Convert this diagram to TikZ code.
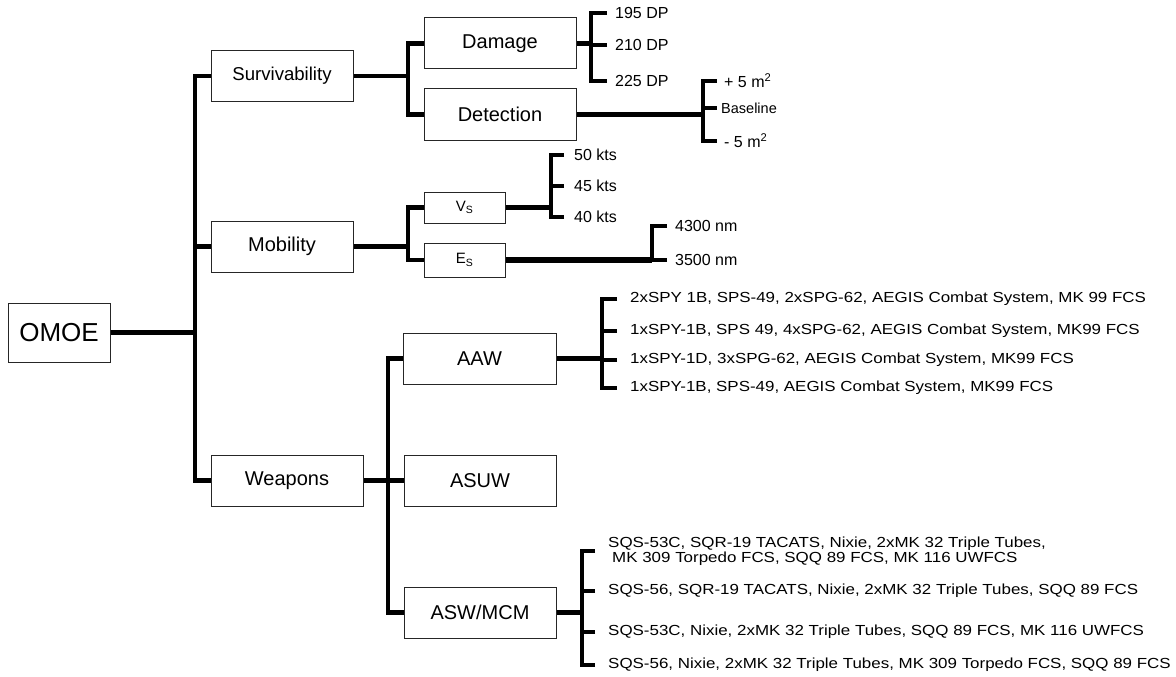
\documentclass[tikz,border=0pt]{standalone}
\usepackage{fontspec}
\setmainfont{Liberation Sans}
\newfontfamily\optfont{Liberation Sans}[FakeStretch=1.16]
\usetikzlibrary{backgrounds}
\tikzset{
  box/.style={draw=black!85, line width=1pt, fill=white, inner sep=0pt,
    font=\fontsize{20}{24}\selectfont, minimum height=51pt},
  conn/.style={line width=4.2pt, line join=miter},
  thickconn/.style={line width=5.5pt, line join=miter},
  leaf/.style={anchor=west, inner ysep=0pt, font=\fontsize{16}{19}\selectfont},
  opt/.style={anchor=west, inner ysep=0pt, inner xsep=13pt,
    font=\optfont\fontsize{14.6}{15.5}\selectfont, align=left},
}
\begin{document}
\begin{tikzpicture}[x=1pt,y=-1pt]
\useasboundingbox (0,0) rectangle (1176,677);

% boxes
\node[box, minimum width=102pt, minimum height=59pt, font=\fontsize{26}{30}\selectfont] (omoe) at (59,332.5) {OMOE};
\node[box, minimum width=142pt, font=\fontsize{18.6}{22}\selectfont] (surv) at (282,76) {Survivability};
\node[box, minimum width=142pt] (mob) at (282,246.5) {Mobility};
\node[box, minimum width=152pt] (weap) at (287,480.5) {Weapons};
\node[box, minimum width=152pt] (dam) at (500,43.5) {Damage};
\node[box, minimum width=152pt] (det) at (500,114.5) {Detection};
\node[box, minimum width=81pt, minimum height=31pt, font=\fontsize{15}{18}\selectfont] (vs) at (464.5,207.5) {V\textsubscript{S}};
\node[box, minimum width=81pt, minimum height=34pt, font=\fontsize{15}{18}\selectfont] (es) at (464.5,260) {E\textsubscript{S}};
\node[box, minimum width=153pt] (aaw) at (479.5,358.5) {AAW};
\node[box, minimum width=152pt] (asuw) at (480,480.5) {ASUW};
\node[box, minimum width=152pt] (asw) at (480,612.5) {ASW/MCM};

% junctions
\coordinate (j1) at (195,332.5);
\coordinate (j2) at (408,76);
\coordinate (j3) at (591,44);
\coordinate (j4) at (703,116);
\coordinate (j5) at (408,247);
\coordinate (j6) at (551,208);
\coordinate (j7) at (652,260);
\coordinate (j8) at (388,481);
\coordinate (j9) at (602,360);
\coordinate (j10) at (582,613);

% leaves
\node[leaf, inner xsep=8pt] (d1) at (607,13) {195 DP};
\node[leaf, inner xsep=8pt] (d2) at (607,45) {210 DP};
\node[leaf, inner xsep=8pt] (d3) at (607,81) {225 DP};

\node[leaf, inner xsep=7pt] (m1) at (717,81) {+ 5 m\textsuperscript{2}};
\node[leaf, inner xsep=4pt, font=\fontsize{14.5}{17}\selectfont] (m2) at (717,108) {Baseline};
\node[leaf, inner xsep=7pt] (m3) at (717,141) {- 5 m\textsuperscript{2}};

\node[leaf, inner xsep=10pt] (k1) at (564,155) {50 kts};
\node[leaf, inner xsep=10pt] (k2) at (564,186) {45 kts};
\node[leaf, inner xsep=10pt] (k3) at (564,217) {40 kts};

\node[leaf, inner xsep=8pt] (n1) at (667,226) {4300 nm};
\node[leaf, inner xsep=8pt] (n2) at (667,260) {3500 nm};

\node[opt] (a1) at (617,299) {2xSPY 1B, SPS-49, 2xSPG-62, AEGIS Combat System, MK 99 FCS};
\node[opt] (a2) at (617,331) {1xSPY-1B, SPS 49, 4xSPG-62, AEGIS Combat System, MK99 FCS};
\node[opt] (a3) at (617,360) {1xSPY-1D, 3xSPG-62, AEGIS Combat System, MK99 FCS};
\node[opt] (a4) at (617,388) {1xSPY-1B, SPS-49, AEGIS Combat System, MK99 FCS};

\node[opt] (s1) at (595,551) {SQS-53C, SQR-19 TACATS, Nixie, 2xMK 32 Triple Tubes,\\\hspace{4pt}MK 309 Torpedo FCS, SQQ 89 FCS, MK 116 UWFCS};
\node[opt] (s2) at (595,591) {SQS-56, SQR-19 TACATS, Nixie, 2xMK 32 Triple Tubes, SQQ 89 FCS};
\node[opt] (s3) at (595,632) {SQS-53C, Nixie, 2xMK 32 Triple Tubes, SQQ 89 FCS, MK 116 UWFCS};
\node[opt] (s4) at (595,665) {SQS-56, Nixie, 2xMK 32 Triple Tubes, MK 309 Torpedo FCS, SQQ 89 FCS};

\begin{pgfonlayer}{background}
% root
\draw[conn] (omoe.east) -- (j1);
\draw[conn] (surv.west) -| (j1);
\draw[conn] (weap.west) -| (j1);
\draw[conn] (mob.west) -- (mob.west -| j1);
% survivability
\draw[conn] (surv.east) -- (surv.east -| j2);
\draw[conn] (dam.west) -| (j2);
\draw[conn] (det.west) -| (j2);
\draw[conn] (dam.east) -- (dam.east -| j3);
\draw[conn] (d1.west) -| (j3);
\draw[conn] (d3.west) -| (j3);
\draw[conn] (d2.west) -- (d2.west -| j3);
\draw[thickconn] (det.east) -- (det.east -| j4);
\draw[conn] (m1.west) -| (j4);
\draw[conn] (m3.west) -| (j4);
\draw[conn] (m2.west) -- (m2.west -| j4);
% mobility
\draw[conn] (mob.east) -- (mob.east -| j5);
\draw[conn] (vs.west) -| (j5);
\draw[conn] (es.west) -| (j5);
\draw[conn] (vs.east) -- (vs.east -| j6);
\draw[conn] (k1.west) -| (j6);
\draw[conn] (k3.west) -| (j6);
\draw[conn] (k2.west) -- (k2.west -| j6);
\draw[line width=6pt] (es.east) -- (es.east -| j7);
\draw[conn] (n1.west) -| (j7);
\draw[conn] (n2.west) -- (n2.west -| j7);
% weapons
\draw[conn] (weap.east) -- (weap.east -| j8);
\draw[conn] (aaw.west) -| (j8);
\draw[conn] (asw.west) -| (j8);
\draw[conn] (asuw.west) -- (asuw.west -| j8);
\draw[conn] (aaw.east) -- (aaw.east -| j9);
\draw[conn] (a1.west) -| (j9);
\draw[conn] (a4.west) -| (j9);
\draw[conn] (a2.west) -- (a2.west -| j9);
\draw[conn] (a3.west) -- (a3.west -| j9);
\draw[conn] (asw.east) -- (asw.east -| j10);
\draw[conn] (s1.west) -| (j10);
\draw[conn] (s4.west) -| (j10);
\draw[conn] (s2.west) -- (s2.west -| j10);
\draw[conn] (s3.west) -- (s3.west -| j10);
\end{pgfonlayer}
\end{tikzpicture}
\end{document}
